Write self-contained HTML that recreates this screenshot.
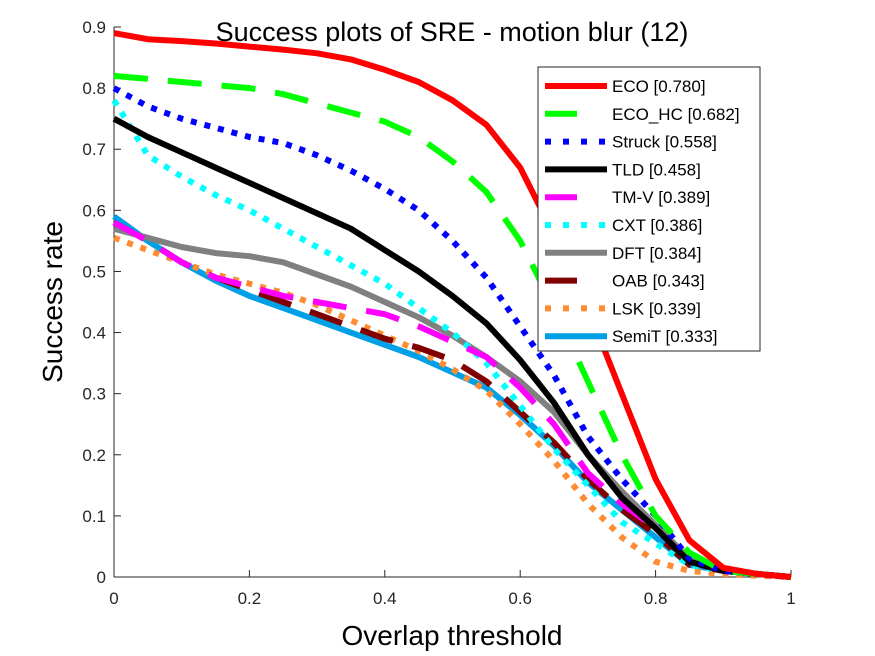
<!DOCTYPE html>
<html><head><meta charset="utf-8"><style>
body{margin:0;background:#fff}
svg{display:block;font-family:"Liberation Sans",Arial,sans-serif}
</style></head><body>
<svg id="chart" width="875" height="656">
<rect x="0" y="0" width="875" height="656" fill="#fff"/>
<text x="452" y="41" font-size="27" text-anchor="middle">Success plots of SRE - motion blur (12)</text>
<g id="axes"></g>
<g id="series"></g>
<g id="legend"></g>
<text x="452" y="645" font-size="28" text-anchor="middle">Overlap threshold</text>
<text transform="translate(62,302) rotate(-90)" font-size="28" text-anchor="middle">Success rate</text>
</svg>
<script>
const thresholds=[0,0.05,0.1,0.15,0.2,0.25,0.3,0.35,0.4,0.45,0.5,0.55,0.6,0.65,0.7,0.75,0.8,0.85,0.9,0.95,1];
const xTicks=[0,0.2,0.4,0.6,0.8,1];
const xTickLabels=["0","0.2","0.4","0.6","0.8","1"];
const yTicks=[0,0.1,0.2,0.3,0.4,0.5,0.6,0.7,0.8,0.9];
const yTickLabels=["0","0.1","0.2","0.3","0.4","0.5","0.6","0.7","0.8","0.9"];
const names=["ECO","ECO_HC","Struck","TLD","TM-V","CXT","DFT","OAB","LSK","SemiT"];
const scores=["0.780","0.682","0.558","0.458","0.389","0.386","0.384","0.343","0.339","0.333"];
const ecoVals=[0.89,0.88,0.877,0.873,0.868,0.863,0.857,0.847,0.83,0.81,0.78,0.74,0.67,0.56,0.44,0.3,0.16,0.06,0.015,0.005,0];
const ecoHcVals=[0.82,0.815,0.81,0.805,0.8,0.79,0.775,0.76,0.745,0.72,0.68,0.63,0.55,0.44,0.32,0.2,0.1,0.04,0.01,0.005,0];
const struckVals=[0.8,0.77,0.75,0.735,0.72,0.71,0.69,0.665,0.635,0.6,0.55,0.49,0.41,0.33,0.23,0.16,0.1,0.03,0.01,0.005,0];
const tldVals=[0.75,0.72,0.695,0.67,0.645,0.62,0.595,0.57,0.535,0.5,0.46,0.415,0.355,0.285,0.2,0.13,0.08,0.025,0.01,0.005,0];
const tmvVals=[0.58,0.55,0.515,0.49,0.475,0.46,0.45,0.44,0.43,0.41,0.385,0.36,0.31,0.25,0.17,0.12,0.08,0.025,0.01,0.005,0];
const cxtVals=[0.78,0.69,0.655,0.625,0.6,0.57,0.54,0.51,0.48,0.44,0.4,0.35,0.28,0.21,0.15,0.09,0.055,0.02,0.01,0.005,0];
const dftVals=[0.57,0.555,0.54,0.53,0.525,0.515,0.495,0.475,0.45,0.425,0.395,0.36,0.32,0.27,0.2,0.14,0.085,0.03,0.01,0.005,0];
const oabVals=[0.58,0.55,0.515,0.49,0.47,0.45,0.43,0.41,0.39,0.375,0.355,0.32,0.27,0.22,0.16,0.11,0.07,0.02,0.01,0.005,0];
const lskVals=[0.555,0.535,0.515,0.495,0.48,0.465,0.445,0.42,0.395,0.37,0.34,0.305,0.25,0.19,0.12,0.065,0.025,0.01,0.005,0.002,0];
const semiTVals=[0.59,0.55,0.515,0.485,0.46,0.44,0.42,0.4,0.38,0.36,0.335,0.31,0.265,0.215,0.155,0.11,0.065,0.02,0.01,0.005,0];

const NS="http://www.w3.org/2000/svg";
const X0=114,X1=791,Y0=577,Y9=27;
const sx=v=>X0+(X1-X0)*v;
const sy=v=>Y0-(Y0-Y9)/0.9*v;
function mk(t,a,p){const e=document.createElementNS(NS,t);for(const k in a)e.setAttribute(k,a[k]);p.appendChild(e);return e;}
const axes=document.getElementById('axes');
let l=mk('line',{x1:X0,y1:Y0,x2:X1,y2:Y0,stroke:'#262626','stroke-width':1},axes);


l=mk('line',{x1:X0,y1:Y0,x2:X0,y2:Y9,stroke:'#262626','stroke-width':1},axes);


xTicks.forEach((v,i)=>{
 const t=mk('line',{x1:sx(v),y1:Y0,x2:sx(v),y2:Y0-7,stroke:'#262626'},axes);
 
 
 const tx=mk('text',{x:sx(v),y:Y0+27,'font-size':17,'text-anchor':'middle',fill:'#262626'},axes);
 tx.textContent=xTickLabels[i];
 
 
});
yTicks.forEach((v,i)=>{
 const t=mk('line',{x1:X0,y1:sy(v),x2:X0+7,y2:sy(v),stroke:'#262626'},axes);
 
 
 const tx=mk('text',{x:X0-8,y:sy(v)+6,'font-size':17,'text-anchor':'end',fill:'#262626'},axes);
 tx.textContent=yTickLabels[i];
 
 
});
const seriesData=[ecoVals,ecoHcVals,struckVals,tldVals,tmvVals,cxtVals,dftVals,oabVals,lskVals,semiTVals];
const colors=["#ff0000","#00ff00","#0000ff","#000000","#ff00ff","#00ffff","#808080","#800000","#ff8c33","#00a0e6"];
const dashes=["none","34,20","6,8","none","34,20","6,8","none","34,20","6,8","none"];
const sg=document.getElementById('series');
for(let s=seriesData.length-1;s>=0;s--){
 const d=seriesData[s].map((v,i)=>(i?'L':'M')+sx(thresholds[i]).toFixed(1)+','+sy(v).toFixed(1)).join('');
 const p=mk('path',{d:d,fill:'none',stroke:colors[s],'stroke-width':6,'stroke-dasharray':dashes[s],'stroke-linejoin':'round'},sg);
 
 
}
const lg=document.getElementById('legend');
const box=mk('rect',{x:538,y:67,width:222,height:284,fill:'#fff',stroke:'#262626','stroke-width':1},lg);


names.forEach((n,i)=>{
 const y=86+i*27.8;
 const ln=mk('line',{x1:545,y1:y,x2:607,y2:y,stroke:colors[i],'stroke-width':6,'stroke-dasharray':dashes[i]=='none'?'none':(dashes[i]=='6,8'?'6,12':'32,30')},lg);
 
 
 const t=mk('text',{x:612,y:y+6,'font-size':17,fill:'#000'},lg);
 t.textContent=n+' ['+scores[i]+']';
 
 
});
</script>
</body></html>
